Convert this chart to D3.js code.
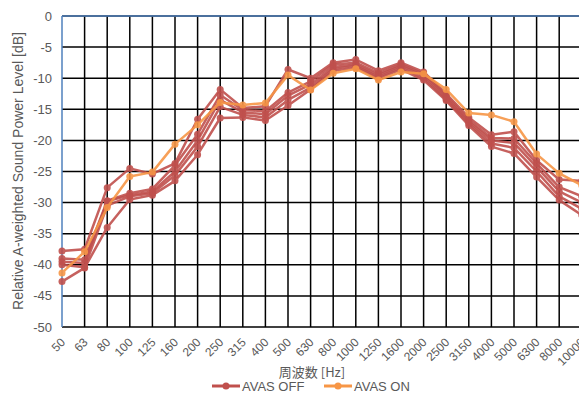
<!DOCTYPE html>
<html>
<head>
<meta charset="utf-8">
<script src="https://cdn.jsdelivr.net/npm/d3@7"></script>
<style>
  body { margin: 0; background: #fff; }
  text { font-family: "Liberation Sans", Arial, sans-serif; fill: #595959; }
</style>
</head>
<body>
<div id="chart"></div>
<script>
// frequency bands (Hz)
var bands = ['50', '63', '80', '100', '125', '160', '200', '250', '315', '400', '500', '630',
  '800', '1000', '1250', '1600', '2000', '2500', '3150', '4000', '5000', '6300', '8000', '10000'];

var yTicks = [0, -5, -10, -15, -20, -25, -30, -35, -40, -45, -50];

// AVAS OFF measurements (several runs)
var off1 = [-37.8, -37.5, -27.6, -24.5, -25.4, -23.7, -16.6, -11.8, -14.8, -14.5, -8.6, -10.0,
  -7.5, -7.0, -8.8, -7.5, -9.0, -12.5, -16.3, -19.1, -18.6, -23.2, -26.3, -26.5];
var off2 = [-39.0, -39.2, -29.7, -28.5, -27.8, -24.0, -19.0, -12.7, -15.1, -15.3, -12.3, -10.5,
  -7.8, -7.5, -9.2, -7.8, -9.3, -12.8, -16.7, -19.6, -19.7, -23.7, -27.5, -29.0];
var off3 = [-39.5, -39.7, -29.8, -28.8, -28.2, -25.0, -20.0, -13.5, -15.5, -15.8, -12.8, -11.0,
  -8.2, -7.8, -9.5, -8.0, -9.6, -13.1, -17.0, -20.0, -20.4, -24.3, -28.2, -30.0];
var off4 = [-40.0, -40.4, -30.5, -29.0, -28.5, -25.6, -21.0, -14.6, -15.9, -16.3, -13.5, -11.5,
  -8.5, -8.0, -9.8, -8.3, -10.0, -13.4, -17.3, -20.5, -21.2, -25.0, -29.0, -31.0];
var off5 = [-42.7, -40.5, -34.0, -29.5, -28.8, -26.5, -22.3, -16.4, -16.3, -16.8, -14.4, -11.8,
  -8.8, -8.3, -10.0, -8.6, -10.3, -13.6, -17.6, -21.0, -22.1, -25.9, -29.6, -32.0];

// AVAS ON
var on1 = [-41.3, -37.9, -30.8, -25.8, -25.1, -20.6, -17.5, -13.9, -14.3, -14.0, -9.5, -11.9,
  -9.2, -8.5, -10.3, -9.0, -9.3, -11.8, -15.6, -15.9, -17.0, -22.2, -25.3, -27.2];

var offColor = '#c0504d',
    onColor = '#f79646';

var width = 579,
    height = 394,
    plotLeft = 62,
    plotTop = 16,
    plotBottom = 327,
    step = 22.6;

var svg = d3.select('#chart')
    .append('svg')
    .attr('width', width)
    .attr('height', height);

var x = d3.scalePoint()
    .domain(bands)
    .range([plotLeft, plotLeft + step * (bands.length - 1)]);

var y = d3.scaleLinear()
    .domain([-50, 0])
    .range([plotBottom, plotTop]);

// grid
var grid = svg.append('g');
grid.selectAll('.hgrid')
    .data(yTicks)
    .enter().append('line')
    .attr('x1', plotLeft).attr('x2', width + 10)
    .attr('y1', function (d) { return y(d); })
    .attr('y2', function (d) { return y(d); })
    .style('stroke', '#000')
    .style('stroke-width', 1.5);
grid.selectAll('.vgrid')
    .data(bands.slice(1))
    .enter().append('line')
    .attr('x1', function (d) { return x(d); })
    .attr('x2', function (d) { return x(d); })
    .attr('y1', plotTop).attr('y2', plotBottom)
    .style('stroke', '#000')
    .style('stroke-width', 1.5);

// blue frame on left and top
svg.append('line')
    .attr('x1', plotLeft).attr('x2', width + 10)
    .attr('y1', plotTop).attr('y2', plotTop)
    .style('stroke', '#4f81bd').style('stroke-width', 1.5);
svg.append('line')
    .attr('x1', plotLeft).attr('x2', plotLeft)
    .attr('y1', plotTop).attr('y2', plotBottom)
    .style('stroke', '#4f81bd').style('stroke-width', 1.5);

// y axis labels
svg.selectAll('.ylab')
    .data(yTicks)
    .enter().append('text')
    .attr('x', plotLeft - 10)
    .attr('y', function (d) { return y(d); })
    .attr('dy', '0.35em')
    .attr('text-anchor', 'end')
    .style('font-size', '13px')
    .text(function (d) { return d; });

// x axis labels (rotated)
svg.selectAll('.xlab')
    .data(bands)
    .enter().append('text')
    .attr('transform', function (d) { return 'translate(' + (x(d) + 1) + ',' + (plotBottom + 13) + ') rotate(-45)'; })
    .attr('dy', '0.35em')
    .attr('text-anchor', 'end')
    .style('font-size', '12px')
    .text(function (d) { return d; });

// axis titles
svg.append('text')
    .attr('transform', 'translate(23,171) rotate(-90)')
    .attr('text-anchor', 'middle')
    .style('font-size', '14px')
    .text('Relative A-weighted Sound Power Level [dB]');

svg.append('text')
    .attr('x', 312)
    .attr('y', 377)
    .attr('text-anchor', 'middle')
    .style('font-family', '"Noto Sans CJK JP", "Liberation Sans", sans-serif')
    .style('font-size', '13px')
    .text('周波数 [Hz]');

// series
var series = [
  { name: 'AVAS OFF', values: off1, color: offColor },
  { name: 'AVAS OFF', values: off2, color: offColor },
  { name: 'AVAS OFF', values: off3, color: offColor },
  { name: 'AVAS OFF', values: off4, color: offColor },
  { name: 'AVAS OFF', values: off5, color: offColor },
  { name: 'AVAS ON', values: on1, color: onColor }
];

var line = d3.line()
    .x(function (d, i) { return x(bands[i]); })
    .y(function (d) { return y(d); });

var plot = svg.append('g');
series.forEach(function (s) {
  var g = plot.append('g').style('opacity', 0.9);
  g.append('path')
      .datum(s.values)
      .attr('d', line)
      .style('fill', 'none')
      .style('stroke', s.color)
      .style('stroke-width', 2.5)
      .style('stroke-linejoin', 'round');
  g.selectAll('circle')
      .data(s.values)
      .enter().append('circle')
      .attr('cx', function (d, i) { return x(bands[i]); })
      .attr('cy', function (d) { return y(d); })
      .attr('r', 3.5)
      .style('fill', s.color);
});

// legend
var legendItems = [
  { label: 'AVAS OFF', color: offColor, x: 212 },
  { label: 'AVAS ON', color: onColor, x: 324 }
];
var legend = svg.selectAll('.legend')
    .data(legendItems)
    .enter().append('g')
    .attr('transform', function (d) { return 'translate(' + d.x + ',386)'; });
legend.append('line')
    .attr('x1', 0).attr('x2', 28)
    .style('stroke', function (d) { return d.color; })
    .style('stroke-width', 3);
legend.append('circle')
    .attr('cx', 14)
    .attr('r', 3.5)
    .style('fill', function (d) { return d.color; });
legend.append('text')
    .attr('x', 30)
    .attr('dy', '0.35em')
    .style('font-size', '13px')
    .text(function (d) { return d.label; });
</script>
</body>
</html>
